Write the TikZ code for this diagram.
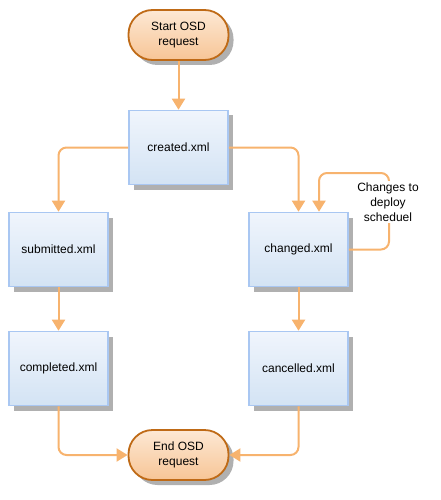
\documentclass[tikz,border=0pt]{standalone}
\usepackage{fontspec}
\setmainfont{Liberation Sans}
\usetikzlibrary{arrows.meta,shadows,calc}
\definecolor{flowc}{HTML}{F7B36E}
\definecolor{boxedge}{HTML}{A9C7F2}
\definecolor{boxtop}{HTML}{F0F5FC}
\definecolor{boxbot}{HTML}{D3E3F4}
\definecolor{termedge}{HTML}{BF6A16}
\definecolor{termtop}{HTML}{FDE8D4}
\definecolor{termbot}{HTML}{F7C596}
\definecolor{shadowc}{HTML}{B0B0B0}
\tikzset{
  xmlbox/.style={draw=boxedge, line width=1.6pt, top color=boxtop, bottom color=boxbot,
    minimum width=99pt, minimum height=74pt, inner sep=0pt,
    font=\fontsize{12}{14}\selectfont,
    drop shadow={shadow xshift=5pt, shadow yshift=-5pt, fill=shadowc, opacity=1}},
  term/.style={draw=termedge, line width=1.8pt, top color=termtop, bottom color=termbot,
    rounded corners=24pt, minimum width=100pt, minimum height=50pt, inner sep=0pt,
    align=center, font=\fontsize{12}{15}\selectfont,
    drop shadow={shadow xshift=5pt, shadow yshift=-5pt, fill=shadowc, opacity=1}},
  flow/.style={draw=flowc, line width=2pt, rounded corners=8pt,
    -{Triangle[width=13pt,length=11pt]}},
  note/.style={fill=white, align=center, inner sep=2pt, font=\fontsize{12}{15}\selectfont}
}
\begin{document}
\begin{tikzpicture}[x=1pt,y=-1pt]
\useasboundingbox (0,0) rectangle (441,500);
\node[term] (start) at (178.5,35) {Start OSD\\request};
\node[xmlbox] (created) at (178.5,147.5) {created.xml};
\node[xmlbox] (submitted) at (58.5,249.5) {submitted.xml};
\node[xmlbox] (changed) at (298.5,249.5) {changed.xml};
\node[xmlbox] (completed) at (58.5,368.5) {completed.xml};
\node[xmlbox] (cancelled) at (298.5,368.5) {cancelled.xml};
\node[term] (end) at (178.5,455) {End OSD\\request};

\draw[flow] (start) -- (created);
\draw[flow] (created.west) -| (submitted.north);
\draw[flow] (created.east) -| (changed.north);
\draw[flow] (submitted) -- (completed);
\draw[flow] (changed) -- (cancelled);
\draw[flow] (completed.south) |- (end.west);
\draw[flow] (cancelled.south) |- (end.east);
\coordinate (loopr) at (389,173);
\draw[flow] (changed.east) -| (loopr) -| ([xshift=20.5pt]changed.north);
\node[note] (chg) at (388,202) {Changes to\\deploy\\scheduel};
\end{tikzpicture}
\end{document}
